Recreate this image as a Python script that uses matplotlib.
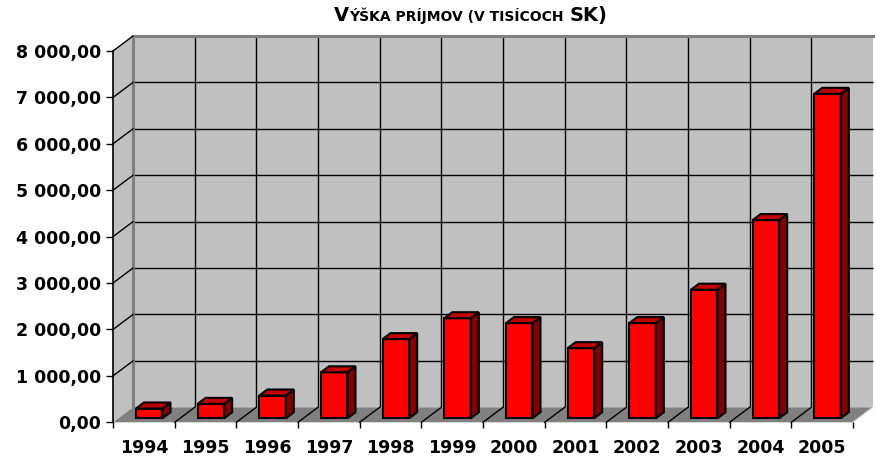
import numpy as np
import matplotlib.pyplot as plt
from matplotlib.patches import Polygon, Rectangle
from matplotlib.transforms import ScaledTranslation, IdentityTransform

years = ['1994', '1995', '1996', '1997', '1998', '1999',
         '2000', '2001', '2002', '2003', '2004', '2005']
income = [210, 310, 490, 990, 1705, 2155, 2050, 1510, 2050, 2770, 4270, 6990]
yticks = np.arange(0, 8001, 1000)
ylabels = ['0,00', '1 000,00', '2 000,00', '3 000,00', '4 000,00',
           '5 000,00', '6 000,00', '7 000,00', '8 000,00']

plt.rcParams['font.family'] = 'DejaVu Sans'
plt.rcParams['font.weight'] = 'bold'

fig = plt.figure(figsize=(8.76, 4.58), dpi=100)
W, H = 876, 458
ax = fig.add_axes([113 / W, 1 - 422.3 / H, 740 / W, 371.3 / H])
ax.set_xlim(-0.5, 11.5)
ax.set_ylim(0, 8000)
ax.patch.set_visible(False)

x = np.arange(len(years))


def shift(d):
    # oblique depth: d=0 front plane, d=1 back wall
    return ax.transData + ScaledTranslation(0.20 * d, 0.15 * d, fig.dpi_scale_trans)


def pt(xv, yv, d):
    return shift(d).transform((xv, yv))


def face(pts, **kw):
    p = Polygon(pts, closed=True, transform=IdentityTransform(), clip_on=False, **kw)
    ax.add_patch(p)
    return p


# walls and floor
ax.add_patch(Rectangle((-0.5, 0), 12, 8000, transform=shift(1), facecolor='#c0c0c0',
                       edgecolor='none', zorder=0, clip_on=False))
face([pt(-0.5, 0, 0), pt(-0.5, 8000, 0), pt(-0.5, 8000, 1), pt(-0.5, 0, 1)],
     facecolor='#c0c0c0', edgecolor='none', zorder=0.5)
face([pt(-0.5, 0, 0), pt(11.5, 0, 0), pt(11.5, 0, 1), pt(-0.5, 0, 1)],
     facecolor='#808080', edgecolor='none', zorder=0.5)

# gridlines on back wall
ax.hlines(yticks[1:-1], -0.5, 11.5, colors='black', lw=1, transform=shift(1),
          zorder=1, clip_on=False)
ax.vlines(np.arange(0.5, 11, 1), 0, 8000, colors='black', lw=1, transform=shift(1),
          zorder=1, clip_on=False)
ax.plot([-0.5, 11.5], [8000, 8000], color='#808080', lw=2.2, transform=shift(1),
        zorder=1.2, clip_on=False)
ax.plot([-0.5, -0.5], [0, 8000], color='#808080', lw=2.2, transform=shift(1),
        zorder=1.2, clip_on=False)

# gridlines on left wall and floor
for v in yticks[1:]:
    a, b = pt(-0.5, v, 0), pt(-0.5, v, 1)
    ax.plot([a[0], b[0]], [a[1], b[1]], color='black', lw=1,
            transform=IdentityTransform(), zorder=1.5, clip_on=False)
for xb in np.arange(0.5, 11, 1):
    a, b = pt(xb, 0, 0), pt(xb, 0, 1)
    ax.plot([a[0], b[0]], [a[1], b[1]], color='black', lw=1,
            transform=IdentityTransform(), zorder=1.5, clip_on=False)
a, b = pt(11.5, 0, 0), pt(11.5, 0, 1)
ax.plot([a[0], b[0]], [a[1], b[1]], color='#e0e0e0', lw=1,
        transform=IdentityTransform(), zorder=1.5, clip_on=False)

# bars
d0, d1 = 0.27, 0.67
bw = 0.43
ax.bar(x, income, width=bw, color='#ff0000', edgecolor='black', linewidth=1.5,
       transform=shift(d0), zorder=3, clip_on=False)
for xi, v in zip(x, income):
    l, r = xi - bw / 2, xi + bw / 2
    face([pt(r, 0, d0), pt(r, v, d0), pt(r, v, d1), pt(r, 0, d1)],
         facecolor='#800000', edgecolor='black', linewidth=1.5, zorder=3,
         joinstyle='miter')
    face([pt(l, v, d0), pt(r, v, d0), pt(r, v, d1), pt(l, v, d1)],
         facecolor='#c00000', edgecolor='black', linewidth=1.5, zorder=3,
         joinstyle='miter')

# axes
for s in ['top', 'right', 'bottom']:
    ax.spines[s].set_visible(False)
ax.spines['left'].set_linewidth(1.2)
ax.spines['left'].set_zorder(2)
ax.set_yticks(yticks)
ax.set_yticklabels(ylabels, fontsize=12.5, fontweight='bold')
ax.tick_params(axis='y', direction='out', length=5, width=1, pad=3.5)
ax.set_xticks(x)
ax.set_xticklabels(years, fontsize=12.5, fontweight='bold')
ax.set_xticks(np.arange(-0.5, 12, 1), minor=True)
ax.tick_params(axis='x', which='major', length=0, pad=12)
ax.tick_params(axis='x', which='minor', direction='out', length=4.5, width=1)

# title in small caps
rend = fig.canvas.get_renderer()
parts = [('V', 14), ('ÝŠKA PRÍJMOV (V TISÍCOCH', 10), (' ', 10), ('SK)', 14)]
txts = [fig.text(0, 0, s, fontsize=fs, fontweight='bold', ha='left', va='baseline',
                 transform=IdentityTransform()) for s, fs in parts]
widths = [t.get_window_extent(rend).width for t in txts]
widths[2] = 6
xs = 471 - sum(widths) / 2
for t, w in zip(txts, widths):
    t.set_position((xs, H - 21.3))
    xs += w

fig.savefig('out.png', dpi=100)
